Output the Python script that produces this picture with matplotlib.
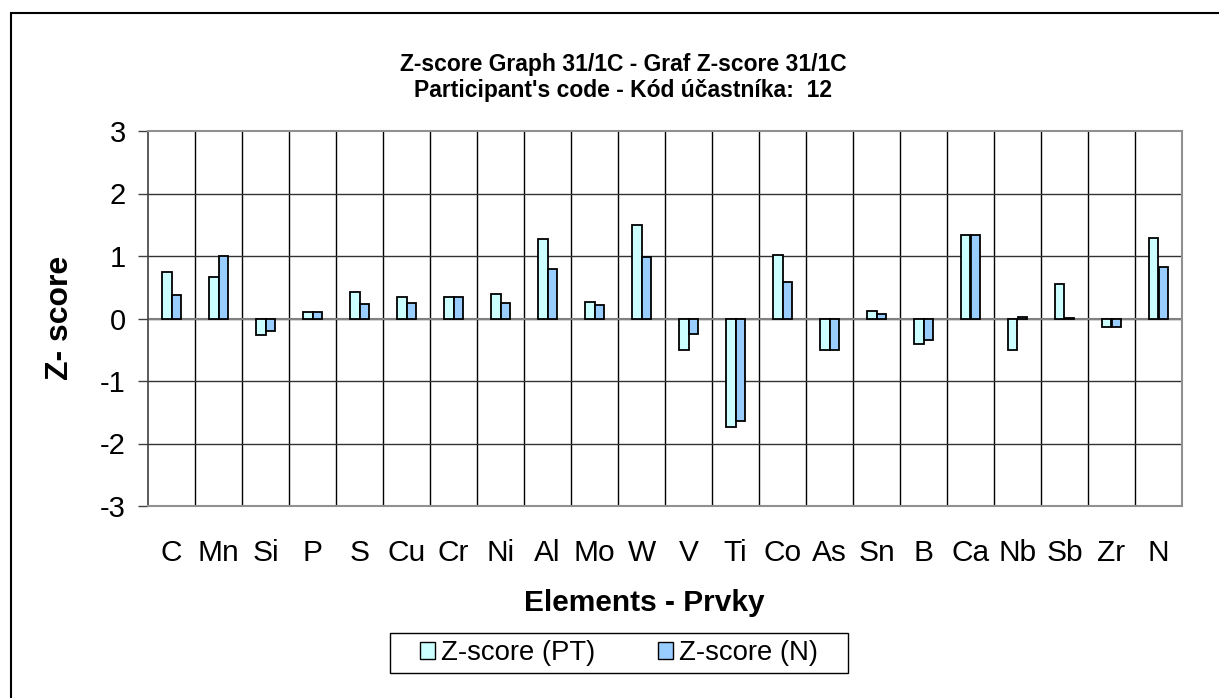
import numpy as np
import matplotlib
matplotlib.use("Agg")
import matplotlib.pyplot as plt
from matplotlib.patches import Rectangle

plt.rcParams['font.family'] = ['Liberation Sans', 'DejaVu Sans']

elements = ["C", "Mn", "Si", "P", "S", "Cu", "Cr", "Ni", "Al", "Mo", "W",
            "V", "Ti", "Co", "As", "Sn", "B", "Ca", "Nb", "Sb", "Zr", "N"]
z_pt = [0.75, 0.67, -0.26, 0.11, 0.43, 0.34, 0.35, 0.40, 1.27, 0.26, 1.50,
        -0.50, -1.73, 1.01, -0.50, 0.12, -0.41, 1.34, -0.50, 0.55, -0.13, 1.29]
z_n = [0.38, 1.00, -0.20, 0.11, 0.24, 0.25, 0.35, 0.25, 0.79, 0.21, 0.99,
       -0.24, -1.64, 0.58, -0.50, 0.07, -0.34, 1.34, 0.02, 0.01, -0.14, 0.82]
yticks = [-3, -2, -1, 0, 1, 2, 3]

W, H = 1219, 698
fig = plt.figure(figsize=(W / 100, H / 100), dpi=100)
ax = fig.add_axes([148 / W, 1 - 506 / H, (1182 - 148) / W, (506 - 131) / H])

x = np.arange(len(elements))
bw = 0.2
ax.bar(x - bw / 2, z_pt, bw, color="#CCFFFF", edgecolor="black", linewidth=1.3,
       label="Z-score (PT)", zorder=3)
ax.bar(x + bw / 2, z_n, bw, color="#99CCFF", edgecolor="black", linewidth=1.3,
       label="Z-score (N)", zorder=3)

ax.set_xlim(-0.5, len(elements) - 0.5)
ax.set_ylim(-3, 3)
ax.set_yticks(yticks)
ax.set_yticklabels([str(v) for v in yticks], fontsize=21)
ax.set_xticks(x)
ax.set_xticklabels(elements, fontsize=21.5)
ax.tick_params(axis='x', length=0, pad=24)
ax.tick_params(axis='y', length=7, width=1, color="#404040", pad=9, direction='out')

# gridlines: vertical at category boundaries, horizontal at integer values
for b in np.arange(0.5, len(elements) - 0.5, 1):
    ax.axvline(b, color="black", linewidth=1, zorder=1)
for v in yticks[1:-1]:
    ax.axhline(v, color="#333333", linewidth=1, zorder=1)
ax.axhline(0, color="#808080", linewidth=1.5, zorder=2)

for side in ["top", "right", "bottom"]:
    ax.spines[side].set_color("#909090")
    ax.spines[side].set_linewidth(1.5)
ax.spines["left"].set_color("#404040")
ax.spines["left"].set_linewidth(1.2)

fig.text(623 / W, 1 - 65 / H, "Z-score Graph 31/1C - Graf Z-score 31/1C",
         ha="center", va="center", fontsize=16.5, fontweight="bold")
fig.text(623 / W, 1 - 90 / H, "Participant's code - Kód účastníka:  12",
         ha="center", va="center", fontsize=16.5, fontweight="bold")
fig.text(60 / W, 1 - 318 / H, "Z- score", rotation=90, ha="center", va="center",
         fontsize=23, fontweight="bold")
fig.text(644 / W, 1 - 603 / H, "Elements - Prvky", ha="center", va="center",
         fontsize=21.5, fontweight="bold")

leg = fig.legend(loc="center", bbox_to_anchor=(619 / W, 1 - 653 / H), ncol=2,
                 fontsize=19.8, frameon=False,
                 handlelength=0.55, handleheight=0.55, handletextpad=0.2,
                 columnspacing=2.3, borderpad=0.2, borderaxespad=0)
for h in leg.legend_handles:
    h.set_linewidth(1)

# legend frame (wider horizontal padding than matplotlib gives)
fig.patches.append(Rectangle((390 / W, 1 - 673 / H), (848 - 390) / W, 40 / H,
                             transform=fig.transFigure, fill=False,
                             edgecolor="black", linewidth=1))

# outer chart border (clipped at right and bottom edges)
fig.patches.append(Rectangle((11 / W, -0.05), 1.2, 1 - 13 / H + 0.05,
                             transform=fig.transFigure, fill=False,
                             edgecolor="black", linewidth=1.5))

fig.savefig("out.png", dpi=100)
